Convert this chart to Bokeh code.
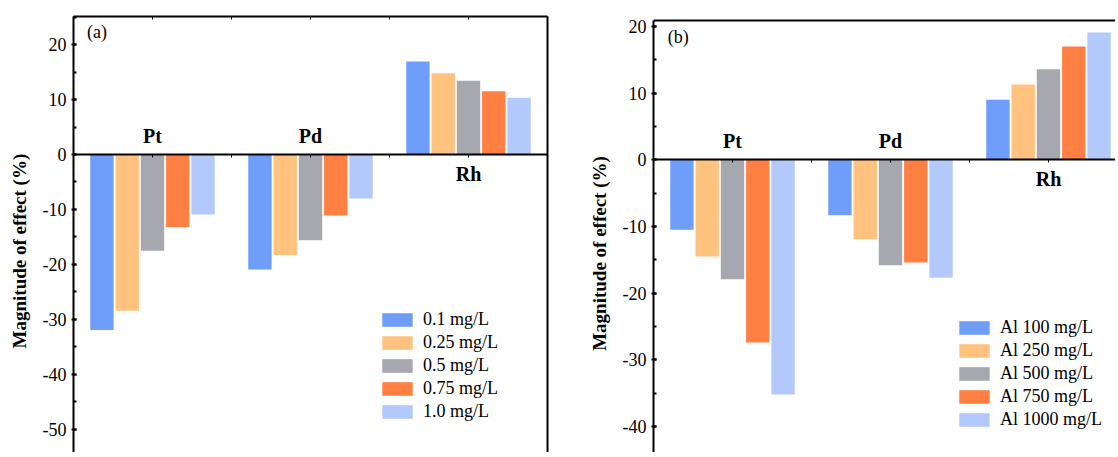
from bokeh.plotting import figure
from bokeh.models import (Range1d, LinearAxis, SingleIntervalTicker, FixedTicker, Legend,
                          LegendItem, ColumnDataSource, Label, PrintfTickFormatter,
                          CustomJSTickFormatter, Span)
from bokeh.layouts import row
from bokeh.embed import file_html
from bokeh.resources import INLINE
from bokeh.core.properties import value

# ---------------- data ----------------
metals = ["Pt", "Pd", "Rh"]
colors = ["#6E9EF9", "#FFC27F", "#A7A7AF", "#FF8042", "#B3C9FC"]
y_title = "Magnitude of effect (%)"

# panel (a): precious metal concentration
a_labels = ["0.1 mg/L", "0.25 mg/L", "0.5 mg/L", "0.75 mg/L", "1.0 mg/L"]
a_01 = [-31.9, -20.9, 16.9]
a_025 = [-28.4, -18.3, 14.8]
a_05 = [-17.5, -15.6, 13.4]
a_075 = [-13.2, -11.1, 11.5]
a_10 = [-10.9, -8.0, 10.3]

# panel (b): Al concentration
b_labels = ["Al 100 mg/L", "Al 250 mg/L", "Al 500 mg/L", "Al 750 mg/L", "Al 1000 mg/L"]
b_100 = [-10.5, -8.3, 9.0]
b_250 = [-14.5, -11.9, 11.3]
b_500 = [-17.9, -15.8, 13.6]
b_750 = [-27.4, -15.4, 17.0]
b_1000 = [-35.2, -17.7, 19.1]

SERIF = "Liberation Serif"
BAR_W = 0.148
PITCH = 0.16
NBSP = "\u00a0"


def blank_axis(ticker, tick_in, tick_out, **kw):
    ax = LinearAxis(ticker=ticker, formatter=CustomJSTickFormatter(code="return ''"), **kw)
    ax.axis_line_width = 2
    ax.major_tick_line_width = 1
    ax.major_tick_in = tick_in
    ax.major_tick_out = tick_out
    ax.minor_tick_in = 0
    ax.minor_tick_out = 0
    ax.major_label_standoff = 0
    return ax


def make_panel(series, labels, tag, y_start, y_end, frame_w, x_end, frame_h,
               b_left, b_right, right_axis, top_border, title_pad, legend_xy):
    p = figure(frame_width=frame_w, frame_height=frame_h,
               x_range=Range1d(0.5, x_end), y_range=Range1d(y_start, y_end),
               output_backend="svg", toolbar_location=None,
               min_border_left=b_left, min_border_top=16,
               min_border_right=b_right, min_border_bottom=0,
               x_axis_location=None, y_axis_location=None)
    p.outline_line_color = None
    p.xgrid.visible = False
    p.ygrid.visible = False
    p.background_fill_color = "white"

    items = []
    for i, (vals, lab) in enumerate(zip(series, labels)):
        xs = [k + 1 + (i - 2) * PITCH for k in range(len(metals))]
        src = ColumnDataSource(dict(x=xs, top=vals))
        r = p.vbar(x="x", top="top", bottom=0, width=BAR_W, source=src,
                   fill_color=colors[i], line_color=None)
        items.append(LegendItem(label=lab, renderers=[r]))

    # left axis; trailing no-break spaces shift the centred title lower,
    # as in the cropped original
    yax = LinearAxis(ticker=SingleIntervalTicker(interval=10, num_minor_ticks=2),
                     formatter=PrintfTickFormatter(format="%d"),
                     axis_label=y_title + NBSP * title_pad)
    if top_border is not None:
        yax.bounds = (y_start, top_border)
    yax.axis_line_width = 2
    yax.major_tick_line_width = 2
    yax.minor_tick_line_width = 2
    yax.major_tick_in = 3
    yax.major_tick_out = 2
    yax.minor_tick_in = 3
    yax.minor_tick_out = 0
    yax.major_label_standoff = 5
    yax.major_label_text_font = SERIF
    yax.major_label_text_font_size = "18px"
    yax.major_label_text_color = "black"
    yax.axis_label_text_font = SERIF
    yax.axis_label_text_font_style = "bold"
    yax.axis_label_text_font_size = "19px"
    yax.axis_label_text_color = "black"
    yax.axis_label_standoff = 10
    p.add_layout(yax, "left")

    if top_border is None:
        # top border with inward ticks
        p.add_layout(blank_axis(SingleIntervalTicker(interval=0.5, num_minor_ticks=0), 3, 0),
                     "above")
    else:
        p.add_layout(Span(location=top_border, dimension="width", line_color="black",
                          line_width=2))

    if right_axis:
        p.add_layout(blank_axis(FixedTicker(ticks=[]), 0, 0), "right")

    # zero line axis
    p.add_layout(blank_axis(SingleIntervalTicker(interval=0.5, num_minor_ticks=0), 0, 3,
                            fixed_location=0), "below")

    # category labels on the side opposite to the bars
    first = series[0]
    offs = [19 if v > 0 else -19 for v in first]
    csrc = ColumnDataSource(dict(x=[k + 1 for k in range(len(metals))],
                                 y=[0] * len(metals), t=metals, off=offs))
    p.text(x="x", y="y", text="t", y_offset="off", source=csrc,
           text_font=value(SERIF), text_font_style="bold", text_font_size="20px",
           text_align="center", text_baseline="middle", text_color="black")

    p.add_layout(Label(x=tag[1], y=tag[2], text=tag[0], text_font=SERIF,
                       text_font_size="18px", text_baseline="middle",
                       text_color="black"))

    leg = Legend(items=items, location=legend_xy, padding=0, margin=0,
                 border_line_color=None, background_fill_alpha=0,
                 glyph_width=38, glyph_height=17, label_height=17, spacing=2,
                 label_standoff=7, label_text_font=SERIF, label_text_font_size="18px",
                 label_text_color="black")
    p.add_layout(leg, "center")
    return p


pa = make_panel([a_01, a_025, a_05, a_075, a_10], a_labels, ("(a)", 0.585, 22.3),
                -54.2, 25.1, 474, 3.5, 436, 73, 20, True, None, 7, (305, 30))
pb = make_panel([b_100, b_250, b_500, b_750, b_1000], b_labels, ("(b)", 0.59, 18.35),
                -43.91, 21.5, 462, 0.5 + 462 / 158.0, 436, 86, 0, False, 20.9, 8, (302, 22))

layout = row(pa, pb, spacing=0)
open("out.html", "w").write(file_html(layout, INLINE))
